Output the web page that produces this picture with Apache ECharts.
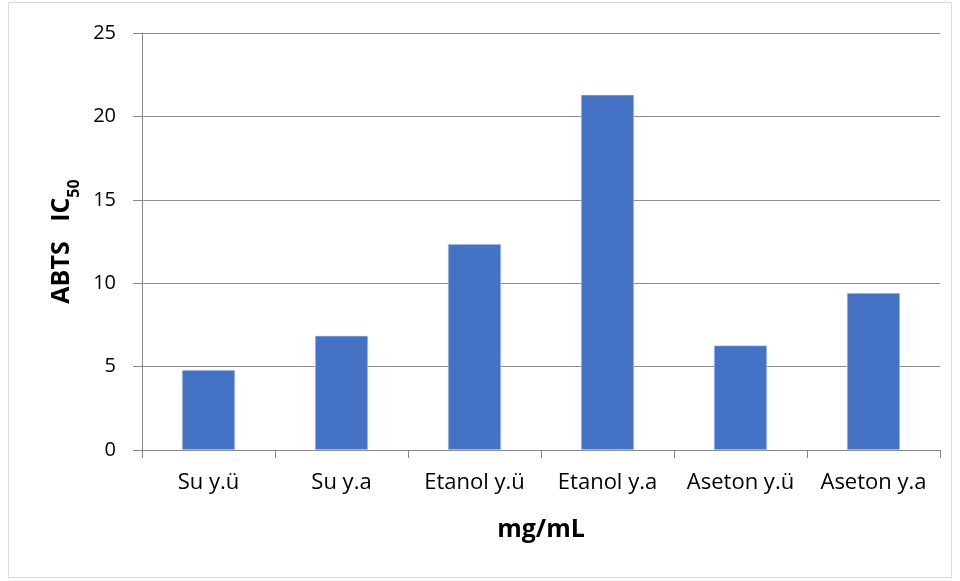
<!DOCTYPE html>
<html>
<head>
<meta charset="utf-8">
<script src="https://cdn.jsdelivr.net/npm/echarts@6/dist/echarts.min.js"></script>
<style>
  html, body { margin: 0; padding: 0; background: #fff; }
  #chart { width: 960px; height: 581px; }
</style>
</head>
<body>
<div id="chart"></div>
<script>
// Extract groups (solvent, y.ü / y.a)
const categories = ['Su y.ü', 'Su y.a', 'Etanol y.ü', 'Etanol y.a', 'Aseton y.ü', 'Aseton y.a'];
// ABTS IC50 values, mg/mL
const ic50Values = [4.8, 6.85, 12.35, 21.3, 6.27, 9.42];
// Value axis ticks
const yMin = 0, yMax = 25, yStep = 5;

const font = '"Open Sans", "Noto Sans", sans-serif';
const chart = echarts.init(document.getElementById('chart'), null, { renderer: 'canvas' });

chart.setOption({
  animation: false,
  backgroundColor: '#ffffff',
  graphic: [{
    type: 'rect',
    shape: { x: 8.5, y: 2.5, width: 943, height: 575 },
    style: { fill: 'none', stroke: '#d9d9d9', lineWidth: 1 },
    silent: true
  }],
  grid: { left: 142, right: 20, top: 33, bottom: 131 },
  xAxis: {
    type: 'category',
    data: categories,
    boundaryGap: true,
    axisLine: { lineStyle: { color: '#868686', width: 1 } },
    axisTick: { show: true, alignWithLabel: false, length: 8, lineStyle: { color: '#868686' } },
    axisLabel: { color: '#000', fontFamily: font, fontSize: 22, margin: 22, interval: 0 },
    name: 'mg/mL',
    nameLocation: 'middle',
    nameGap: 67,
    nameTextStyle: { color: '#000', fontFamily: font, fontSize: 25, fontWeight: 'bold' }
  },
  yAxis: {
    type: 'value',
    min: yMin,
    max: yMax,
    interval: yStep,
    axisLine: { show: true, lineStyle: { color: '#868686', width: 1 } },
    axisTick: { show: true, length: 9, lineStyle: { color: '#868686' } },
    splitLine: { show: true, lineStyle: { color: '#8c8c8c', width: 1 } },
    axisLabel: { color: '#000', fontFamily: font, fontSize: 20, margin: 26 },
    name: '{main|ABTS   IC}{sub|50}',
    nameLocation: 'middle',
    nameRotate: 90,
    nameGap: 64,
    nameTextStyle: {
      rich: {
        main: { color: '#000', fontFamily: font, fontSize: 25, fontWeight: 'bold', lineHeight: 30, verticalAlign: 'bottom' },
        sub: { color: '#000', fontFamily: font, fontSize: 16, fontWeight: 'bold', lineHeight: 30, verticalAlign: 'bottom', padding: [0, 0, -8, 0] }
      }
    }
  },
  series: [{
    type: 'bar',
    data: ic50Values,
    barWidth: '40%',
    itemStyle: { color: '#4472C4', borderColor: '#d6e0f2', borderWidth: 0.6 }
  }]
});
</script>
</body>
</html>
